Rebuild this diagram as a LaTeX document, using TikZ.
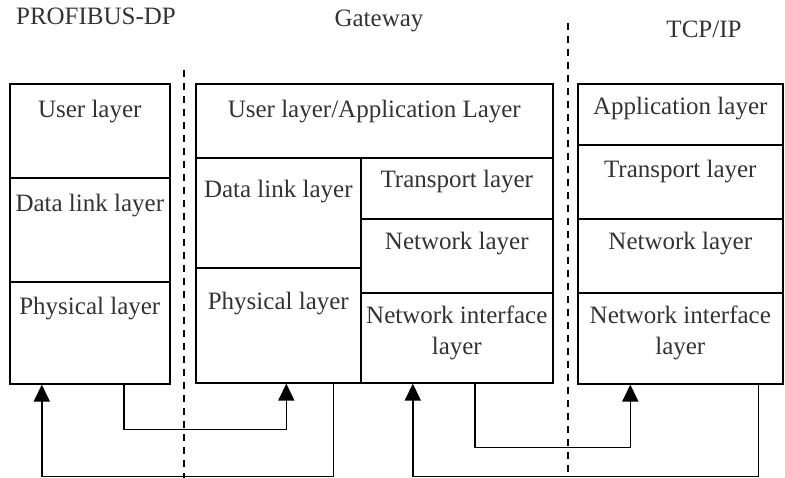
\documentclass[tikz,border=0pt]{standalone}
\usepackage{fontspec}
\setmainfont{Liberation Serif}
\usetikzlibrary{arrows.meta}

\tikzset{
  cell/.style={draw, line width=1.6pt, anchor=north west, inner sep=0pt},
  lbl/.style={text=black!80, font=\fontsize{25}{31}\selectfont, align=center, inner sep=0pt},
  flow/.style={line width=1.6pt, -{Triangle[length=17pt,width=16pt]}},
  sep/.style={line width=1.4pt, dash pattern=on 7pt off 6pt}
}

\begin{document}
\begin{tikzpicture}[x=1pt,y=-1pt]
\useasboundingbox (0,0) rectangle (785,478);

\node[lbl, anchor=base] (tprofi) at (96,25) {PROFIBUS-DP};
\node[lbl, anchor=base] (tgate) at (379,27) {Gateway};
\node[lbl, anchor=base] (ttcp) at (704,38) {TCP/IP};

\draw[sep] (184,70) -- (184,478);
\draw[sep] (568,23) -- (568,478);

% PROFIBUS-DP
\node[cell, minimum width=160pt, minimum height=94pt] (pu) at (9,83) {};
\node[cell, minimum width=160pt, minimum height=104pt] (pd) at (9,177) {};
\node[cell, minimum width=160pt, minimum height=102pt] (pp) at (9,281) {};
\node[lbl, anchor=base] (put) at ([yshift=-35pt]pu.north) {User layer};
\node[lbl, anchor=base] (pdt) at ([yshift=-35pt]pd.north) {Data link layer};
\node[lbl, anchor=base] (ppt) at ([yshift=-34pt]pp.north) {Physical layer};

% Gateway
\node[cell, minimum width=357pt, minimum height=74pt] (gu) at (195,83) {};
\node[cell, minimum width=165pt, minimum height=110pt] (gd) at (195,157) {};
\node[cell, minimum width=165pt, minimum height=115pt] (gp) at (195,267) {};
\node[cell, minimum width=192pt, minimum height=61pt] (gt) at (360,157) {};
\node[cell, minimum width=192pt, minimum height=74pt] (gn) at (360,218) {};
\node[cell, minimum width=192pt, minimum height=90pt] (gi) at (360,292) {};
\node[lbl, anchor=base] (gut) at ([yshift=-35pt]gu.north) {User layer/Application Layer};
\node[lbl, anchor=base] (gdt) at ([yshift=-41pt]gd.north) {Data link layer};
\node[lbl, anchor=base] (gpt) at ([yshift=-43pt]gp.north) {Physical layer};
\node[lbl, anchor=base] (gtt) at ([yshift=-31pt]gt.north) {Transport layer};
\node[lbl, anchor=base] (gnt) at ([yshift=-32pt]gn.north) {Network layer};
\node[lbl, anchor=north] (git) at ([yshift=-14pt]gi.north) {Network interface\\layer};

% TCP/IP
\node[cell, minimum width=205pt, minimum height=61pt] (ta) at (577,83) {};
\node[cell, minimum width=205pt, minimum height=74pt] (tt) at (577,144) {};
\node[cell, minimum width=205pt, minimum height=74pt] (tn) at (577,218) {};
\node[cell, minimum width=205pt, minimum height=91pt] (ti) at (577,292) {};
\node[lbl, anchor=base] (tat) at ([yshift=-32pt]ta.north) {Application layer};
\node[lbl, anchor=base] (ttt) at ([yshift=-34pt]tt.north) {Transport layer};
\node[lbl, anchor=base] (tnt) at ([yshift=-32pt]tn.north) {Network layer};
\node[lbl, anchor=north] (tit) at ([yshift=-14pt]ti.north) {Network interface\\layer};

\draw[flow]
([xshift=34pt]pp.south)
--
++(0,45)
-|
([xshift=8pt]gp.south);

\draw[flow]
([xshift=55pt]gp.south)
--
++(0,93)
-|
([xshift=-48pt]pp.south);

\draw[flow]
([xshift=18pt]gi.south)
--
++(0,64)
-|
([xshift=-50pt]ti.south);

\draw[flow]
([xshift=78pt]ti.south)
--
++(0,92)
-|
([xshift=-44pt]gi.south);

\end{tikzpicture}
\end{document}
